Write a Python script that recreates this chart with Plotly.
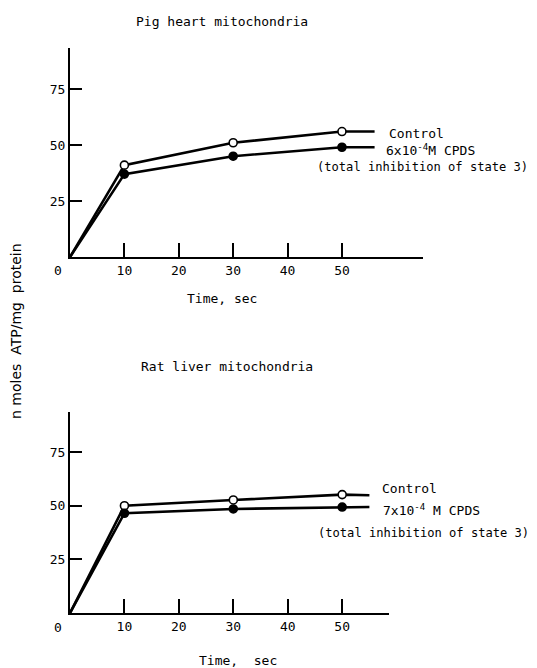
import plotly.graph_objects as go

W, H = 537, 668

# ---- data ----
time_points = [0, 10, 30, 50]
tail_pig = 56
tail_rat = 55

pig_control = [0, 41, 51, 56]
pig_cpds = [0, 37, 45, 49]
rat_control = [0, 50, 52.7, 55.2]
rat_cpds = [0, 46.5, 48.5, 49.4]

x_tickvals = [10, 20, 30, 40, 50]
x_ticktext = ["10", "20", "30", "40", "50"]
y_tickvals = [25, 50, 75]
y_ticktext = ["25", "50", "75"]

FONT = "DejaVu Sans Mono"


def px(x):
    return x / W


def py(y):
    return 1 - y / H


fig = go.Figure()

panels = [
    ("x", "y", pig_control, pig_cpds, tail_pig),
    ("x2", "y2", rat_control, rat_cpds, tail_rat),
]
for xa, ya, ctrl, cpds, tail in panels:
    for vals, fill in [(ctrl, "white"), (cpds, "black")]:
        fig.add_trace(go.Scatter(
            x=time_points + [tail], y=vals + [vals[-1] - (0.3 if xa == "x2" and fill == "white" else 0)],
            mode="lines", line=dict(color="black", width=2.6),
            xaxis=xa, yaxis=ya, showlegend=False, hoverinfo="skip"))
        fig.add_trace(go.Scatter(
            x=time_points[1:], y=vals[1:], mode="markers",
            marker=dict(size=8, color=fill, line=dict(color="black", width=1.6)),
            xaxis=xa, yaxis=ya, showlegend=False))

axis_common = dict(showline=True, linecolor="black", linewidth=2, showgrid=False,
                   zeroline=False, ticks="inside", tickcolor="black",
                   tickfont=dict(family=FONT, size=13, color="black"))

fig.update_layout(
    width=W, height=H, margin=dict(l=0, r=0, t=0, b=0),
    paper_bgcolor="white", plot_bgcolor="white",
    xaxis=dict(domain=[px(70), px(423)], range=[0, 64.9], anchor="y",
               tickvals=x_tickvals, ticktext=x_ticktext, ticklen=14, tickwidth=1.6,
               **axis_common),
    yaxis=dict(domain=[py(257), py(48)], range=[0, 93.3], anchor="x",
               tickvals=y_tickvals, ticktext=y_ticktext, ticklen=12, tickwidth=1.6,
               **axis_common),
    xaxis2=dict(domain=[px(70), px(389)], range=[0, 58.6], anchor="y2",
                tickvals=x_tickvals, ticktext=x_ticktext, ticklen=14, tickwidth=1.6,
                **axis_common),
    yaxis2=dict(domain=[py(613), py(412)], range=[0, 93.7], anchor="x2",
                tickvals=y_tickvals, ticktext=y_ticktext, ticklen=12, tickwidth=1.6,
                **axis_common),
)

anns = [
    ("Pig heart mitochondria", 222, 21, "center", 13, 0, FONT),
    ("Time, sec", 222, 298, "center", 13, 0, FONT),
    ("0", 58, 270, "center", 13, 0, FONT),
    ("Control", 387, 133, "left", 13, 0, FONT),
    ("6x10<sup>-4</sup>M CPDS", 384, 150, "left", 13, 0, FONT),
    ("(total inhibition of state 3)", 315, 167, "left", 12.1, 0, FONT),
    ("Rat liver mitochondria", 227, 366, "center", 13, 0, FONT),
    ("Time,  sec", 238, 660, "center", 13, 0, FONT),
    ("0", 58, 627, "center", 13, 0, FONT),
    ("Control", 380, 488, "left", 13, 0, FONT),
    ("7x10<sup>-4</sup> M CPDS", 381, 510, "left", 13, 0, FONT),
    ("(total inhibition of state 3)", 316, 533, "left", 12.1, 0, FONT),
    ("n moles  ATP/mg  protein", 16, 331, "center", 14, -90, "DejaVu Sans"),
]
for text, x, y, align, size, ang, fam in anns:
    fig.add_annotation(text=text, x=px(x), y=py(y), xref="paper", yref="paper",
                       xanchor=align, yanchor="middle", showarrow=False,
                       textangle=ang,
                       font=dict(family=fam, size=size, color="black"))

fig.write_html("out.html")
